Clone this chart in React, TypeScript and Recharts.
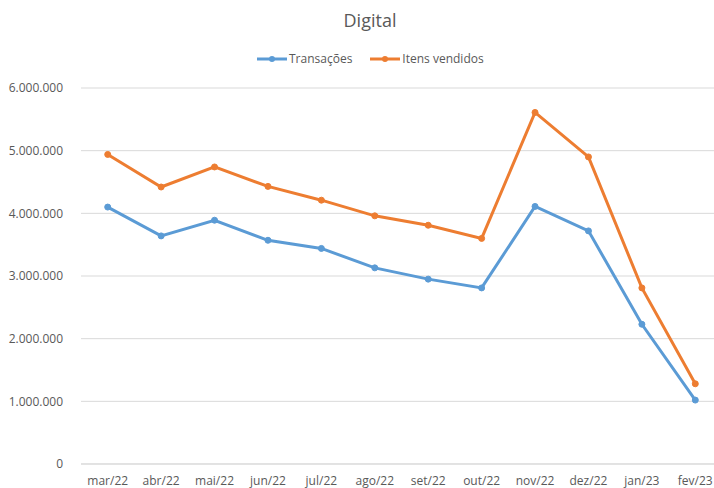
import React from "react";
import { LineChart, Line, XAxis, YAxis, CartesianGrid, Legend } from "recharts";

const months = ["mar/22", "abr/22", "mai/22", "jun/22", "jul/22", "ago/22", "set/22", "out/22", "nov/22", "dez/22", "jan/23", "fev/23"];
const transacoes = [4100000, 3640000, 3890000, 3570000, 3440000, 3130000, 2950000, 2810000, 4110000, 3720000, 2230000, 1020000];
const itensVendidos = [4940000, 4420000, 4740000, 4430000, 4210000, 3960000, 3810000, 3600000, 5610000, 4900000, 2810000, 1280000];
const yTicks = [0, 1000000, 2000000, 3000000, 4000000, 5000000, 6000000];
const boundaryTicks = [0, 1, 2, 3, 4, 5, 6, 7, 8, 9, 10, 11, 12];

const data = months.map((m, i) => ({ month: m, idx: i + 0.5, t: transacoes[i], v: itensVendidos[i] }));

const BLUE = "#5B9BD5";
const ORANGE = "#ED7D31";
const TEXT = "#595959";
const FONT = "'Open Sans', 'Noto Sans', sans-serif";

const fmt = (n: number) => String(n).replace(/\B(?=(\d{3})+(?!\d))/g, ".");

const LegendContent = () => (
  <div style={{ width: 714, height: 78, position: "relative", fontFamily: FONT, color: TEXT }}>
    <div style={{ position: "absolute", top: 8, width: 740, textAlign: "center", fontSize: 18 }}>Digital</div>
    <div style={{ position: "absolute", top: 50, left: 257, display: "flex", alignItems: "center", fontSize: 12 }}>
      {[{ c: BLUE, n: "Transações" }, { c: ORANGE, n: "Itens vendidos" }].map((it, k) => (
        <div key={k} style={{ display: "flex", alignItems: "center", marginRight: k === 0 ? 18 : 0 }}>
          <svg width={30} height={10} style={{ marginRight: 2 }}>
            <line x1={0} y1={5} x2={30} y2={5} stroke={it.c} strokeWidth={3} />
            <circle cx={15} cy={5} r={3} fill={it.c} />
          </svg>
          <span>{it.n}</span>
        </div>
      ))}
    </div>
  </div>
);

export default function App() {
  return (
    <div style={{ position: "absolute", left: 0, top: 0, width: 714, height: 488, overflow: "hidden", background: "#fff" }}>
      <LineChart width={730} height={488} data={data} margin={{ top: 10, right: 8, bottom: 0, left: 11 }}>
        <Legend verticalAlign="top" align="left" content={<LegendContent />} wrapperStyle={{ top: 0, left: 0 }} />
        <CartesianGrid vertical={false} stroke="#d9d9d9" />
        <XAxis
          xAxisId="cat"
          dataKey="month"
          scale="band"
          interval={0}
          tickLine={false}
          axisLine={{ stroke: "#d9d9d9" }}
          tick={{ fill: TEXT, fontSize: 12, fontFamily: FONT }}
          tickMargin={6}
          height={24}
        />
        <XAxis
          xAxisId="grid"
          dataKey="idx"
          type="number"
          domain={[0, 12]}
          ticks={boundaryTicks}
          tick={false}
          tickLine={{ stroke: "#d9d9d9" }}
          tickSize={5}
          axisLine={false}
          height={0}
        />
        <YAxis
          width={70}
          domain={[0, 6000000]}
          ticks={yTicks}
          tickFormatter={fmt}
          axisLine={false}
          tickLine={false}
          tick={{ fill: TEXT, fontSize: 12, fontFamily: FONT }}
          tickMargin={12}
        />
        <Line xAxisId="cat" dataKey="t" name="Transações" stroke={BLUE} strokeWidth={3} dot={{ r: 3, fill: BLUE, stroke: BLUE, strokeWidth: 1 }} isAnimationActive={false} />
        <Line xAxisId="cat" dataKey="v" name="Itens vendidos" stroke={ORANGE} strokeWidth={3} dot={{ r: 3, fill: ORANGE, stroke: ORANGE, strokeWidth: 1 }} isAnimationActive={false} />
      </LineChart>
    </div>
  );
}
